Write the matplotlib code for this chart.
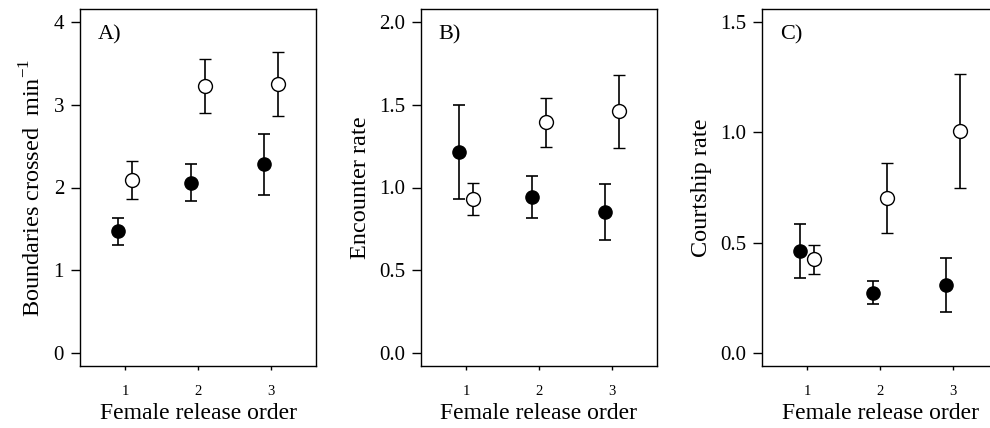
import matplotlib
matplotlib.use("Agg")
import matplotlib.pyplot as plt

plt.rcParams['font.family'] = ['Liberation Serif', 'DejaVu Serif']
plt.rcParams['mathtext.fontset'] = 'custom'
plt.rcParams['mathtext.rm'] = 'Liberation Serif'

order = [1, 2, 3]

# panel A - boundaries crossed per min
a_filled = [1.475, 2.057, 2.283]
a_filled_lo = [1.309, 1.838, 1.915]
a_filled_hi = [1.636, 2.279, 2.642]
a_open = [2.093, 3.232, 3.257]
a_open_lo = [1.863, 2.901, 2.861]
a_open_hi = [2.323, 3.560, 3.644]

# panel B - encounter rate
b_filled = [1.212, 0.943, 0.853]
b_filled_lo = [0.929, 0.818, 0.683]
b_filled_hi = [1.497, 1.069, 1.024]
b_open = [0.929, 1.396, 1.463]
b_open_lo = [0.834, 1.248, 1.240]
b_open_hi = [1.026, 1.543, 1.683]

# panel C - courtship rate
c_filled = [0.461, 0.273, 0.306]
c_filled_lo = [0.339, 0.221, 0.185]
c_filled_hi = [0.583, 0.327, 0.430]
c_open = [0.424, 0.703, 1.006]
c_open_lo = [0.358, 0.544, 0.747]
c_open_hi = [0.491, 0.859, 1.265]

W, H = 990, 428
fig = plt.figure(figsize=(W / 100, H / 100), dpi=100)


def panel(left, y, ylo, yhi, yo, yolo, yohi, yticks, ylabels, ylim, ylab, tag):
    ax = fig.add_axes([left / W, (H - 366) / H, 236 / W, 357 / H])
    xf = [o - 0.1 for o in order]
    xo = [o + 0.1 for o in order]
    ax.errorbar(xf, y, yerr=[[a - b for a, b in zip(y, ylo)], [b - a for a, b in zip(y, yhi)]],
                fmt='o', color='black', ms=9.5, capsize=4, elinewidth=1.2, capthick=1.2)
    ax.errorbar(xo, yo, yerr=[[a - b for a, b in zip(yo, yolo)], [b - a for a, b in zip(yo, yohi)]],
                fmt='o', mfc='white', mec='black', color='black', ms=10, mew=1,
                capsize=4, elinewidth=1.2, capthick=1.2)
    ax.set_xlim(0.38, 3.62)
    ax.set_ylim(*ylim)
    ax.set_xticks(order)
    ax.set_xticklabels([str(o) for o in order], fontsize=10.5)
    ax.set_yticks(yticks)
    ax.set_yticklabels(ylabels, fontsize=15)
    ax.tick_params(axis='y', direction='out', length=6.5, width=1, pad=5)
    ax.tick_params(axis='x', direction='out', length=3, width=1, pad=11)
    for s in ax.spines.values():
        s.set_linewidth(1)
    ax.set_xlabel('Female release order', fontsize=17, labelpad=3)
    ax.set_ylabel(ylab, fontsize=17.5, labelpad=6)
    ax.text(0.075, 0.955, tag, transform=ax.transAxes, fontsize=16, va='top', ha='left')
    return ax


panel(80, a_filled, a_filled_lo, a_filled_hi, a_open, a_open_lo, a_open_hi,
      [0, 1, 2, 3, 4], ['0', '1', '2', '3', '4'], (-0.16, 4.16),
      'Boundaries crossed  min$^{-1}$', 'A)')
panel(421, b_filled, b_filled_lo, b_filled_hi, b_open, b_open_lo, b_open_hi,
      [0, 0.5, 1, 1.5, 2], ['0.0', '0.5', '1.0', '1.5', '2.0'], (-0.08, 2.08),
      'Encounter rate', 'B)')
panel(762, c_filled, c_filled_lo, c_filled_hi, c_open, c_open_lo, c_open_hi,
      [0, 0.5, 1, 1.5], ['0.0', '0.5', '1.0', '1.5'], (-0.06, 1.56),
      'Courtship rate', 'C)')

fig.savefig('out.png', dpi=100)
